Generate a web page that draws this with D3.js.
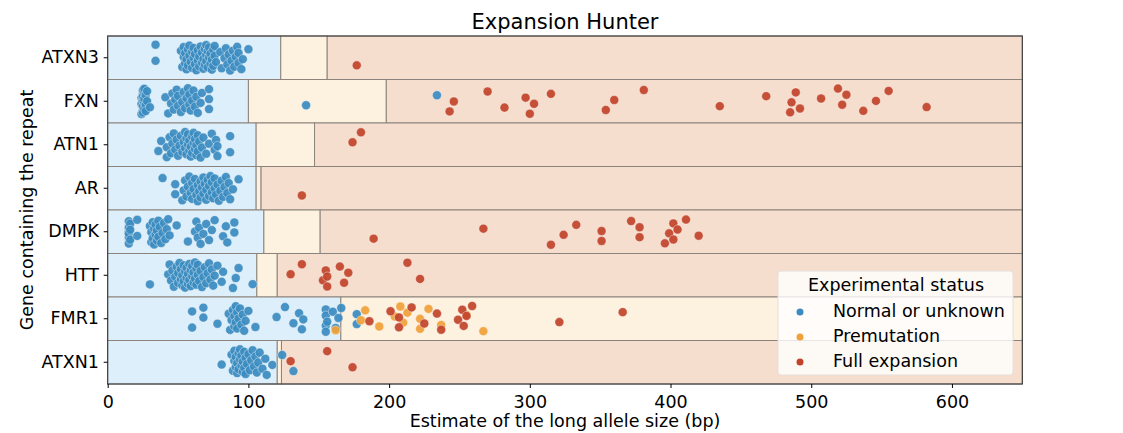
<!DOCTYPE html>
<html>
<head>
<meta charset="utf-8">
<script src="https://cdn.jsdelivr.net/npm/d3@7"></script>
<style>
  body { margin: 0; background: #fff; }
  text { font-family: "DejaVu Sans", sans-serif; fill: #000; }
</style>
</head>
<body>
<div id="canvas"></div>
<script>
"use strict"

/* genes, top to bottom */
let genes = ["ATXN3", "FXN", "ATN1", "AR", "DMPK", "HTT", "FMR1", "ATXN1"];

/* upper limit of normal range and of premutation range (bp), one per gene */
let normalMax = [123, 100, 105.5, 105.5, 111, 106, 165.7, 120.5];
let premMax = [156, 198, 147, 109, 151, 120.5, 650, 123.5];

let xTicks = [0, 100, 200, 300, 400, 500, 600];
let statuses = ["Normal or unknown", "Premutation", "Full expansion"];

/* estimated long allele size per sample, split by experimental status */
let normalSizes = {
    ATXN3: [34, 34, 52, 53, 54, 54, 55, 55, 56, 56, 57, 57, 58, 58, 59, 60, 60, 61, 61, 62, 62, 63, 64, 64, 65, 65, 66, 67, 67, 68, 68, 69, 69, 70, 70, 70, 71, 71, 72, 72, 73, 73, 74, 74, 75, 75, 76, 76, 77, 80, 81, 83, 84, 85, 86, 87, 88, 89, 90, 91, 92, 93, 93, 95, 96, 100],
    FXN: [24, 24, 24, 25, 25, 25, 25, 25, 25, 25, 26, 26, 26, 26, 26, 27, 27, 27, 28, 28, 30, 41, 43, 45, 46, 47, 48, 49, 50, 50, 52, 53, 54, 55, 56, 57, 58, 58, 59, 60, 61, 62, 63, 64, 66, 67, 72, 72, 72, 141, 234],
    ATN1: [36, 38, 42, 42, 44, 45, 46, 47, 48, 49, 50, 51, 52, 53, 54, 55, 55, 56, 56, 57, 57, 58, 58, 59, 59, 60, 60, 61, 61, 62, 62, 63, 63, 64, 64, 65, 66, 67, 68, 70, 72, 74, 76, 77, 78, 78, 87, 87],
    AR: [39, 48, 48, 53, 54, 55, 56, 57, 58, 59, 60, 60, 61, 62, 63, 64, 64, 65, 66, 66, 67, 68, 68, 69, 70, 70, 71, 72, 72, 73, 74, 74, 75, 76, 76, 77, 78, 79, 80, 81, 82, 83, 84, 85, 86, 87, 89, 93],
    DMPK: [15, 15, 15, 15, 15, 15, 16, 16, 16, 21, 21, 30, 31, 31, 32, 32, 33, 33, 34, 34, 35, 35, 36, 36, 37, 38, 39, 40, 41, 42, 43, 44, 49, 57, 62, 63, 64, 65, 66, 68, 70, 72, 74, 76, 82, 84, 85, 90, 90],
    HTT: [30, 43, 44, 45, 46, 47, 48, 49, 50, 50, 51, 52, 52, 53, 53, 54, 54, 55, 55, 56, 56, 57, 57, 58, 58, 59, 59, 60, 60, 61, 61, 62, 62, 63, 63, 64, 64, 65, 66, 67, 68, 69, 70, 71, 72, 73, 74, 75, 76, 78, 81, 82, 89, 91, 93, 103],
    FMR1: [60, 60, 68, 68, 78, 86, 87, 88, 89, 90, 90, 91, 91, 92, 92, 93, 94, 95, 96, 97, 98, 100, 105, 120, 126, 132, 136, 138, 139, 155, 155, 155, 155, 156, 160, 162, 164, 166, 177, 177],
    ATXN1: [81, 88, 89, 90, 90, 91, 91, 92, 92, 93, 93, 94, 94, 95, 95, 96, 96, 97, 97, 98, 98, 99, 100, 101, 102, 103, 104, 105, 106, 107, 108, 110, 112, 113, 117, 124, 132]
};
let premutationSizes = {
    FMR1: [162, 180, 183, 193, 204, 208, 210, 213, 222, 222, 228, 237, 255, 267]
};
let fullSizes = {
    ATXN3: [177],
    FXN: [243, 246, 270, 282, 297, 300, 303, 315, 354, 360, 381, 435, 468, 485, 486, 489, 492, 507, 519, 522, 525, 537, 546, 555, 582],
    ATN1: [174, 180],
    AR: [138],
    DMPK: [189, 267, 315, 324, 333, 351, 351, 372, 378, 378, 396, 399, 402, 402, 405, 411, 420],
    HTT: [130, 138, 153, 155, 156, 156, 165, 168, 171, 213, 222],
    FMR1: [186, 201, 207, 207, 216, 225, 234, 237, 249, 252, 253, 255, 259, 321, 366],
    ATXN1: [130, 156, 174]
};

let bandColors = ["#ddeffa", "#fdf1df", "#f6dece"];
let pointColors = ["#3a8bc0", "#f1a13a", "#c1432a"];

let width = 1123, height = 433;
let plotLeft = 107.7, plotRight = 1022.3, plotTop = 36, plotBottom = 384;
let fontSize = 17.5;

let drawing = d3.select("#canvas")
    .append("svg")
    .attr("width", width)
    .attr("height", height);

let x = d3.scaleLinear().domain([0, 650]).range([plotLeft, plotRight]);
let y = d3.scaleBand().domain(genes).range([plotTop, plotBottom]);

/* background bands for each gene */
genes.forEach(function (g, i) {
    let edges = [0, normalMax[i], premMax[i], 650];
    for (let k = 0; k < 3; k++) {
        if (edges[k + 1] <= edges[k]) continue;
        drawing.append("rect")
            .attr("x", x(edges[k]))
            .attr("y", y(g))
            .attr("width", x(edges[k + 1]) - x(edges[k]))
            .attr("height", y.bandwidth())
            .attr("fill", bandColors[k])
            .attr("stroke", "#8c847c")
            .attr("stroke-width", 1);
    }
});

/* build point table, jitter is a fixed spread so the strip looks like seaborn's */
let points = [];
genes.forEach(function (g, gi) {
    let n = 0;
    [normalSizes, premutationSizes, fullSizes].forEach(function (src, s) {
        (src[g] || []).forEach(function (v) {
            let j = ((n * 0.6180339887 + gi * 0.37) % 1) - 0.5;
            points.push({ gene: g, value: v, status: s, jitter: j });
            n++;
        });
    });
});

let jitterSpan = y.bandwidth() * 0.6;

drawing.append("g").selectAll("circle")
    .data(points)
    .join("circle")
    .attr("cx", d => x(d.value))
    .attr("cy", d => y(d.gene) + y.bandwidth() / 2 + d.jitter * jitterSpan)
    .attr("r", 4.5)
    .attr("fill", d => pointColors[d.status])
    .attr("fill-opacity", 0.92)
    .attr("stroke", "#ffffff")
    .attr("stroke-width", 0.4);

/* frame */
drawing.append("rect")
    .attr("x", plotLeft)
    .attr("y", plotTop)
    .attr("width", plotRight - plotLeft)
    .attr("height", plotBottom - plotTop)
    .attr("fill", "none")
    .attr("stroke", "#333")
    .attr("stroke-width", 1);

/* axes */
let xAxis = drawing.append("g")
    .attr("transform", "translate(0," + plotBottom + ")")
    .call(d3.axisBottom(x).tickValues(xTicks).tickSize(4).tickSizeOuter(0));
xAxis.select(".domain").remove();
xAxis.selectAll("text").attr("font-size", fontSize).attr("dy", "0.95em");

let yAxis = drawing.append("g")
    .attr("transform", "translate(" + plotLeft + ",0)")
    .call(d3.axisLeft(y).tickSize(4).tickSizeOuter(0));
yAxis.select(".domain").remove();
yAxis.selectAll("text").attr("font-size", fontSize).attr("dx", "-0.1em");

drawing.append("text")
    .attr("x", (plotLeft + plotRight) / 2)
    .attr("y", 29)
    .attr("text-anchor", "middle")
    .attr("font-size", 21)
    .text("Expansion Hunter");

drawing.append("text")
    .attr("x", (plotLeft + plotRight) / 2)
    .attr("y", 427)
    .attr("text-anchor", "middle")
    .attr("font-size", fontSize)
    .text("Estimate of the long allele size (bp)");

drawing.append("text")
    .attr("transform", "translate(33," + (plotTop + plotBottom) / 2 + ") rotate(-90)")
    .attr("text-anchor", "middle")
    .attr("font-size", fontSize)
    .text("Gene containing the repeat");

/* legend */
let legend = drawing.append("g").attr("transform", "translate(778,271)");
legend.append("rect")
    .attr("width", 235)
    .attr("height", 104)
    .attr("rx", 3)
    .attr("fill", "#ffffff")
    .attr("fill-opacity", 0.8)
    .attr("stroke", "#e6e0dc");
legend.append("text")
    .attr("x", 118)
    .attr("y", 20)
    .attr("text-anchor", "middle")
    .attr("font-size", fontSize)
    .text("Experimental status");
statuses.forEach(function (s, i) {
    legend.append("circle")
        .attr("cx", 22)
        .attr("cy", 41 + i * 25)
        .attr("r", 3.5)
        .attr("fill", pointColors[i]);
    legend.append("text")
        .attr("x", 55)
        .attr("y", 46 + i * 25)
        .attr("font-size", fontSize)
        .text(s);
});
</script>
</body>
</html>
